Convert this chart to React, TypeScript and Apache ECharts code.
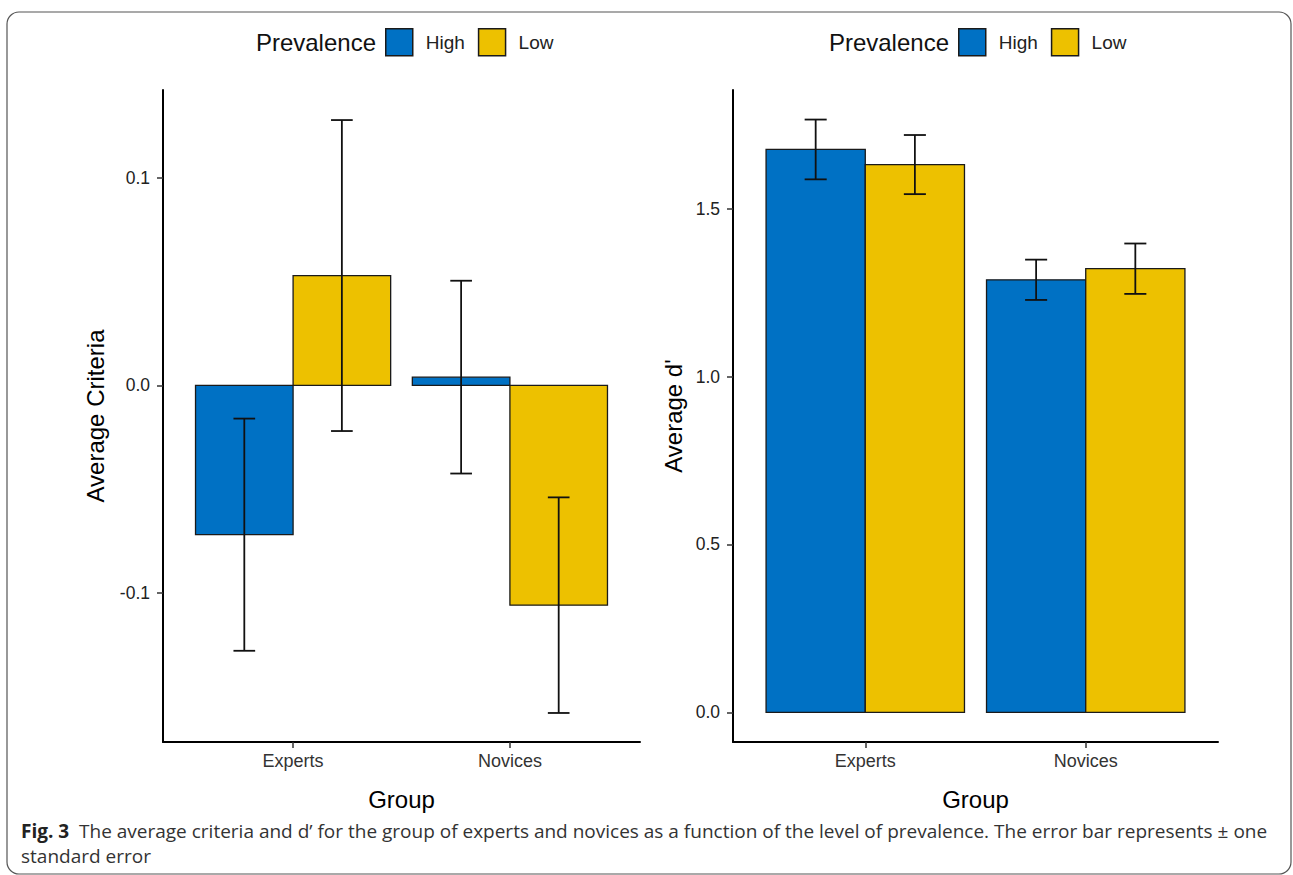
import React, { useEffect, useRef } from "react";
import * as echarts from "echarts";

const categories = ["Experts", "Novices"];
const prevalence = ["High", "Low"];

const criteriaHigh = [-0.072, 0.004];
const criteriaLow = [0.053, -0.106];
const criteriaHighSE = [0.056, 0.0465];
const criteriaLowSE = [0.075, 0.052];

const dprimeHigh = [1.676, 1.288];
const dprimeLow = [1.631, 1.321];
const dprimeHighSE = [0.089, 0.06];
const dprimeLowSE = [0.088, 0.075];

const criteriaTicks = [-0.1, 0, 0.1];
const dprimeTicks = [0, 0.5, 1.0, 1.5];

const BLUE = "#0071C4";
const YELLOW = "#EDC100";
const FONT = "Liberation Sans, Arial, sans-serif";
const CAPTION_FONT = "Open Sans, Liberation Sans, sans-serif";

const DODGE = 0.225;
const HALF_BAR = 0.225;
const CAP = 0.05;

function barPoints(vals: number[], offset: number) {
  return vals.map((v, i) => [i + 1 + offset, v]);
}
function errPoints(vals: number[], se: number[], offset: number) {
  return vals.map((v, i) => [i + 1 + offset, v - se[i], v + se[i]]);
}

function renderBar(color: string) {
  return (params: any, api: any) => {
    const x = api.value(0);
    const y = api.value(1);
    const p0 = api.coord([x - HALF_BAR, 0]);
    const p1 = api.coord([x + HALF_BAR, y]);
    return {
      type: "rect",
      shape: {
        x: p0[0],
        y: Math.min(p0[1], p1[1]),
        width: p1[0] - p0[0],
        height: Math.abs(p1[1] - p0[1]),
      },
      style: { fill: color, stroke: "#1a1a1a", lineWidth: 1.3 },
    };
  };
}

function renderErr(params: any, api: any) {
  const x = api.value(0);
  const lo = api.value(1);
  const hi = api.value(2);
  const pLo = api.coord([x, lo]);
  const pHi = api.coord([x, hi]);
  const cl = api.coord([x - CAP, lo]);
  const cr = api.coord([x + CAP, lo]);
  const style = { stroke: "#111", lineWidth: 1.8 };
  return {
    type: "group",
    children: [
      { type: "line", shape: { x1: pLo[0], y1: pLo[1], x2: pHi[0], y2: pHi[1] }, style },
      { type: "line", shape: { x1: cl[0], y1: pLo[1], x2: cr[0], y2: pLo[1] }, style },
      { type: "line", shape: { x1: cl[0], y1: pHi[1], x2: cr[0], y2: pHi[1] }, style },
    ],
  };
}

function xAxis(gridIndex: number) {
  return {
    type: "value",
    gridIndex,
    min: 0.4,
    max: 2.6,
    name: "Group",
    nameLocation: "middle",
    nameGap: 45,
    nameTextStyle: { fontSize: 24, color: "#000", fontFamily: FONT },
    axisLine: { show: true, onZero: false, lineStyle: { color: "#000", width: 2 } },
    axisTick: { show: true, customValues: [1, 2], length: 6, lineStyle: { color: "#333", width: 1.5 } },
    axisLabel: {
      show: true,
      customValues: [1, 2],
      margin: 10,
      fontSize: 18,
      color: "#333",
      fontFamily: FONT,
      formatter: (v: number) => categories[Math.round(v) - 1] ?? "",
    },
    splitLine: { show: false },
  };
}

function yAxis(gridIndex: number, min: number, max: number, ticks: number[], name: string, nameGap: number) {
  return {
    type: "value",
    gridIndex,
    min,
    max,
    name,
    nameLocation: "middle",
    nameGap,
    nameTextStyle: { fontSize: 24, color: "#000", fontFamily: FONT },
    axisLine: { show: true, onZero: false, lineStyle: { color: "#000", width: 2 } },
    axisTick: { show: true, customValues: ticks, length: 6, lineStyle: { color: "#333", width: 1.5 } },
    axisLabel: {
      show: true,
      customValues: ticks,
      margin: 13,
      fontSize: 17.5,
      color: "#222",
      fontFamily: FONT,
      formatter: (v: number) => v.toFixed(1),
    },
    splitLine: { show: false },
  };
}

function legend(left: number) {
  return {
    left,
    top: 28,
    padding: 0,
    icon: "rect",
    itemWidth: 27,
    itemHeight: 27,
    itemGap: 13,
    selectedMode: false,
    textStyle: { fontSize: 19, color: "#222", fontFamily: FONT, padding: [0, 0, 0, 8] },
    data: [
      { name: prevalence[0], itemStyle: { color: BLUE, borderColor: "#1a1a1a", borderWidth: 1.5 } },
      { name: prevalence[1], itemStyle: { color: YELLOW, borderColor: "#1a1a1a", borderWidth: 1.5 } },
    ],
  };
}

export default function App() {
  const ref = useRef<HTMLDivElement>(null);

  useEffect(() => {
    document.body.style.margin = "0";
    if (!ref.current) return;
    const chart = echarts.init(ref.current, undefined, { renderer: "svg" });

    const series: any[] = [];
    const addSet = (
      idx: number,
      high: number[],
      low: number[],
      highSE: number[],
      lowSE: number[]
    ) => {
      series.push({
        type: "custom",
        name: prevalence[0],
        xAxisIndex: idx,
        yAxisIndex: idx,
        itemStyle: { color: BLUE },
        renderItem: renderBar(BLUE),
        data: barPoints(high, -DODGE),
        z: 2,
      });
      series.push({
        type: "custom",
        name: prevalence[1],
        xAxisIndex: idx,
        yAxisIndex: idx,
        itemStyle: { color: YELLOW },
        renderItem: renderBar(YELLOW),
        data: barPoints(low, DODGE),
        z: 2,
      });
      series.push({
        type: "custom",
        name: "errHigh" + idx,
        xAxisIndex: idx,
        yAxisIndex: idx,
        renderItem: renderErr,
        data: errPoints(high, highSE, -DODGE),
        z: 3,
      });
      series.push({
        type: "custom",
        name: "errLow" + idx,
        xAxisIndex: idx,
        yAxisIndex: idx,
        renderItem: renderErr,
        data: errPoints(low, lowSE, DODGE),
        z: 3,
      });
    };
    addSet(0, criteriaHigh, criteriaLow, criteriaHighSE, criteriaLowSE);
    addSet(1, dprimeHigh, dprimeLow, dprimeHighSE, dprimeLowSE);

    chart.setOption({
      animation: false,
      backgroundColor: "#fff",
      grid: [
        { left: 163, top: 90, width: 477, height: 652 },
        { left: 733, top: 90, width: 485, height: 652 },
      ],
      xAxis: [xAxis(0), xAxis(1)],
      yAxis: [
        yAxis(0, -0.172, 0.1425, criteriaTicks, "Average Criteria", 56),
        yAxis(1, -0.088, 1.853, dprimeTicks, "Average d'", 48),
      ],
      legend: [legend(385), legend(958)],
      series,
      graphic: [
        {
          type: "rect",
          shape: { x: 7, y: 12, width: 1284, height: 862, r: 12 },
          style: { fill: "none", stroke: "#555", lineWidth: 1.2 },
          z: -1,
        },
        {
          type: "text",
          x: 376,
          y: 42,
          style: {
            text: "Prevalence",
            fontSize: 24,
            fontFamily: FONT,
            fill: "#111",
            align: "right",
            verticalAlign: "middle",
          },
        },
        {
          type: "text",
          x: 949,
          y: 42,
          style: {
            text: "Prevalence",
            fontSize: 24,
            fontFamily: FONT,
            fill: "#111",
            align: "right",
            verticalAlign: "middle",
          },
        },
        {
          type: "text",
          x: 21,
          y: 831,
          style: {
            text:
              "{b|Fig. 3}  The average criteria and d\u2019 for the group of experts and novices as a function of the level of prevalence. The error bar represents \u00B1 one",
            fontSize: 19,
            fontFamily: CAPTION_FONT,
            fill: "#333",
            verticalAlign: "middle",
            rich: {
              b: { fontSize: 19, fontWeight: "bold", fontFamily: CAPTION_FONT, fill: "#222" },
            },
          },
        },
        {
          type: "text",
          x: 21,
          y: 856,
          style: {
            text: "standard error",
            fontSize: 19,
            fontFamily: CAPTION_FONT,
            fill: "#333",
            verticalAlign: "middle",
          },
        },
      ],
    });

    return () => chart.dispose();
  }, []);

  return <div ref={ref} style={{ width: 1293, height: 875 }} />;
}
